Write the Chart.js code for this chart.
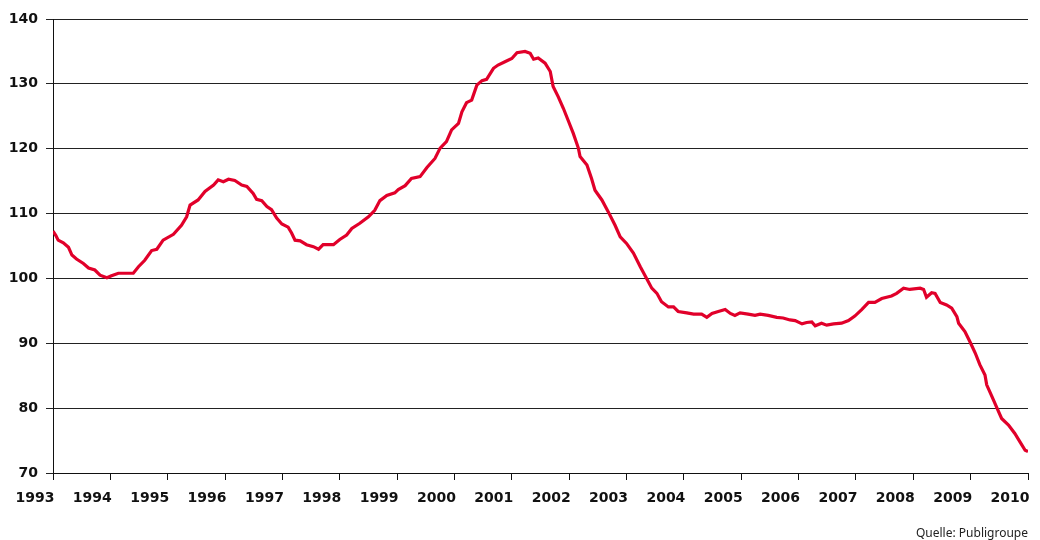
<!DOCTYPE html>
<html>
<head>
<meta charset="utf-8">
<script src="https://cdn.jsdelivr.net/npm/chart.js@4"></script>
<style>
  body { margin: 0; background: #fff; }
  #wrap { position: relative; width: 1040px; height: 540px; }
  #source {
    position: absolute; right: 12px; top: 525px;
    font: 12px "Noto Sans", sans-serif; color: #222; line-height: 16px;
  }
</style>
</head>
<body>
<div id="wrap">
  <canvas id="chart" width="1040" height="540"></canvas>
  <div id="source">Quelle: Publigroupe</div>
</div>
<script>
// Index values (decimal year, value)
const dates = [
  1993.00, 1993.05, 1993.09, 1993.18, 1993.27, 1993.33, 1993.41, 1993.53, 1993.62, 1993.73,
  1993.82, 1993.94, 1994.02, 1994.14, 1994.40, 1994.49, 1994.60, 1994.72, 1994.81, 1994.92,
  1995.10, 1995.24, 1995.33, 1995.39, 1995.53, 1995.65, 1995.80, 1995.88, 1995.97, 1996.06,
  1996.17, 1996.29, 1996.38, 1996.49, 1996.55, 1996.64, 1996.73, 1996.81, 1996.90, 1996.99,
  1997.10, 1997.16, 1997.22, 1997.31, 1997.42, 1997.54, 1997.63, 1997.71, 1997.89, 1998.00,
  1998.12, 1998.21, 1998.35, 1998.50, 1998.61, 1998.70, 1998.82, 1998.96, 1999.02, 1999.14,
  1999.25, 1999.40, 1999.52, 1999.66, 1999.75, 1999.86, 1999.95, 2000.07, 2000.13, 2000.21,
  2000.30, 2000.39, 2000.48, 2000.56, 2000.68, 2000.76, 2000.88, 2001.00, 2001.09, 2001.23,
  2001.32, 2001.38, 2001.46, 2001.58, 2001.67, 2001.72, 2001.81, 2001.90, 2001.99, 2002.07,
  2002.16, 2002.19, 2002.31, 2002.39, 2002.45, 2002.57, 2002.68, 2002.80, 2002.89, 2003.00,
  2003.12, 2003.24, 2003.35, 2003.44, 2003.53, 2003.61, 2003.73, 2003.82, 2003.90, 2004.05,
  2004.17, 2004.31, 2004.40, 2004.49, 2004.60, 2004.72, 2004.81, 2004.89, 2004.98, 2005.12,
  2005.24, 2005.33, 2005.47, 2005.62, 2005.73, 2005.85, 2005.94, 2006.06, 2006.14, 2006.23,
  2006.29, 2006.40, 2006.49, 2006.61, 2006.75, 2006.87, 2006.98, 2007.10, 2007.22, 2007.33,
  2007.45, 2007.62, 2007.71, 2007.83, 2007.94, 2008.12, 2008.18, 2008.23, 2008.32, 2008.38,
  2008.47, 2008.58, 2008.67, 2008.76, 2008.79, 2008.90, 2008.99, 2009.08, 2009.16, 2009.25,
  2009.28, 2009.37, 2009.46, 2009.54, 2009.66, 2009.77, 2009.86, 2009.95, 2010.00
];
const values = [
  107.3, 106.6, 105.9, 105.5, 104.8, 103.6, 103.0, 102.3, 101.6, 101.3,
  100.5, 100.1, 100.4, 100.8, 100.8, 101.8, 102.8, 104.3, 104.5, 105.9,
  106.8, 108.2, 109.5, 111.3, 112.1, 113.4, 114.4, 115.2, 114.9, 115.3,
  115.1, 114.4, 114.2, 113.1, 112.2, 112.0, 111.1, 110.6, 109.3, 108.4,
  107.9, 107.0, 105.9, 105.8, 105.2, 104.9, 104.5, 105.2, 105.2, 106.0,
  106.7, 107.7, 108.5, 109.5, 110.5, 112.0, 112.8, 113.2, 113.7, 114.3,
  115.4, 115.7, 117.1, 118.5, 120.1, 121.1, 122.9, 123.9, 125.7, 127.1,
  127.5, 129.8, 130.5, 130.7, 132.4, 132.9, 133.4, 133.9, 134.8, 135.0,
  134.7, 133.8, 134.0, 133.2, 131.9, 129.6, 128.0, 126.2, 124.2, 122.4,
  120.1, 118.8, 117.5, 115.4, 113.6, 112.1, 110.3, 108.2, 106.4, 105.4,
  103.9, 101.8, 100.0, 98.5, 97.7, 96.4, 95.6, 95.6, 94.9, 94.7,
  94.5, 94.5, 94.0, 94.6, 94.9, 95.2, 94.6, 94.3, 94.7, 94.5,
  94.3, 94.5, 94.3, 94.0, 93.9, 93.6, 93.5, 93.0, 93.2, 93.3,
  92.7, 93.1, 92.8, 93.0, 93.1, 93.5, 94.2, 95.2, 96.3, 96.3,
  96.9, 97.3, 97.7, 98.5, 98.3, 98.5, 98.3, 97.1, 97.8, 97.7,
  96.3, 95.9, 95.4, 94.1, 93.1, 91.8, 90.2, 88.5, 86.7, 85.1,
  83.6, 81.8, 80.0, 78.4, 77.4, 76.1, 74.8, 73.5, 73.3
];
const yearTicks = [1993, 2010];
const valueRange = [70, 140];

const tickFont = { family: "'DejaVu Sans', Verdana, sans-serif", size: 14, weight: "bold" };

new Chart(document.getElementById("chart"), {
  type: "line",
  data: {
    datasets: [{
      data: dates.map((d, i) => ({ x: d, y: values[i] })),
      borderColor: "#e1002a",
      borderWidth: 3.2,
      pointRadius: 0,
      tension: 0,
      fill: false
    }]
  },
  options: {
    responsive: false,
    animation: false,
    devicePixelRatio: 1,
    layout: { padding: { top: 19, right: 12, left: 0, bottom: 0 } },
    plugins: { legend: { display: false }, tooltip: { enabled: false } },
    scales: {
      x: {
        type: "linear",
        min: yearTicks[0],
        max: yearTicks[1],
        afterFit: (s) => { s.height = 67; s.paddingLeft = 0; s.paddingRight = 0; },
        ticks: {
          stepSize: 1,
          autoSkip: false,
          maxRotation: 0,
          labelOffset: -18,
          padding: 10,
          color: "#111",
          font: tickFont,
          callback: (v) => String(v)
        },
        grid: { drawOnChartArea: false, drawTicks: true, tickLength: 7, color: "#111" },
        border: { color: "#111", width: 1 }
      },
      y: {
        min: valueRange[0],
        max: valueRange[1],
        afterFit: (s) => { s.width = 53; },
        ticks: { stepSize: 10, padding: 8, color: "#111", font: tickFont },
        grid: { color: "#222", lineWidth: 1, tickLength: 7 },
        border: { color: "#111", width: 1 }
      }
    }
  }
});
</script>
</body>
</html>
